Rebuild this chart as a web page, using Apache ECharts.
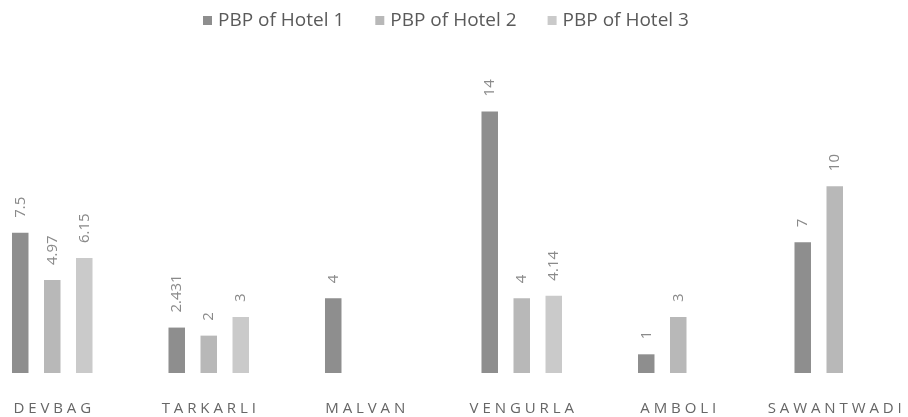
<!DOCTYPE html>
<html>
<head>
<meta charset="utf-8">
<script src="https://cdn.jsdelivr.net/npm/echarts@6/dist/echarts.min.js"></script>
<style>
  html, body { margin: 0; padding: 0; background: #ffffff; overflow: hidden; width: 908px; height: 417px; }
  /* the plot runs slightly past both page edges */
  #chart { position: absolute; left: -26px; top: 0; width: 939px; height: 417px; }
</style>
</head>
<body>
<div id="chart"></div>
<script>
// Payback period (years) per location for three hotels
const categories = ['DEVBAG', 'TARKARLI', 'MALVAN', 'VENGURLA', 'AMBOLI', 'SAWANTWADI'];
const seriesNames = ['PBP of Hotel 1', 'PBP of Hotel 2', 'PBP of Hotel 3'];
const hotel1 = [7.5, 2.431, 4, 14, 1, 7];
const hotel2 = [4.97, 2, null, 4, 3, 10];
const hotel3 = [6.15, 3, null, 4.14, null, null];

const colors = ['#8e8e8e', '#b8b8b8', '#cacaca'];
const font = '"Open Sans", "DejaVu Sans", sans-serif';

const chart = echarts.init(document.getElementById('chart'), null, { renderer: 'canvas' });

function barSeries(name, data, color) {
  return {
    name: name,
    type: 'bar',
    data: data,
    barWidth: 16.5,
    barGap: '94%',
    itemStyle: { color: color },
    label: {
      show: true,
      position: 'top',
      distance: 15,
      rotate: 90,
      align: 'left',
      verticalAlign: 'middle',
      color: '#8a8a8a',
      fontFamily: font,
      fontSize: 15,
      formatter: p => String(p.value)
    }
  };
}

chart.setOption({
  animation: false,
  backgroundColor: '#ffffff',
  legend: {
    top: 6,
    left: 224,
    itemWidth: 9,
    itemHeight: 9,
    itemGap: 31,
    icon: 'rect',
    textStyle: { color: '#5a5a5a', fontFamily: font, fontSize: 19, padding: [0, 0, 0, 1] },
    data: seriesNames
  },
  grid: { left: 0, right: 0, top: 74, bottom: 44, containLabel: false },
  xAxis: {
    type: 'category',
    data: categories,
    axisLine: { show: false },
    axisTick: { show: false },
    axisLabel: {
      interval: 0,
      margin: 28,
      color: '#666666',
      fontFamily: font,
      fontSize: 15,
      formatter: v => v.split('').join(' ')
    }
  },
  yAxis: {
    type: 'value',
    min: 0,
    max: 16,
    show: false,
    splitLine: { show: false }
  },
  series: [
    barSeries(seriesNames[0], hotel1, colors[0]),
    barSeries(seriesNames[1], hotel2, colors[1]),
    barSeries(seriesNames[2], hotel3, colors[2])
  ]
});
</script>
</body>
</html>
